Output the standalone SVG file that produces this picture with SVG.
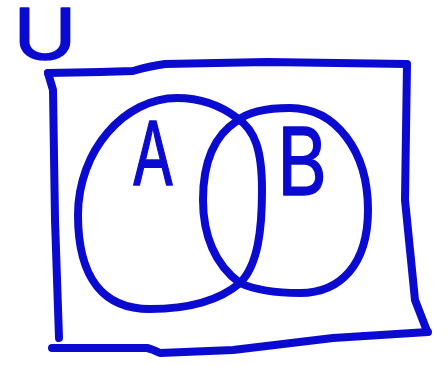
<svg xmlns="http://www.w3.org/2000/svg" width="448" height="366" viewBox="0 0 448 366">
<style>
.ln{fill:none;stroke:#0a0ad0;stroke-width:8;stroke-linecap:round;stroke-linejoin:round}
.lb{font-family:Inter,"DejaVu Sans",sans-serif;fill:#0a0ad0;stroke:#0a0ad0;stroke-width:1.5;stroke-linejoin:round}
</style>
<rect width="448" height="366" fill="#ffffff"/>
<g id="universe">
<path class="ln" d="M48,73 L100,72 L133,71 Q150,66 165,64 L267,62 L407,64 L405,200 L415,300 L427,331"/>
<path class="ln" d="M428,332 L333,338 L233,350 L160,353 Q152,349 147,348 L52,348"/>
<path class="ln" d="M48,73 L53,90 L55,220 L59,338"/>
<text class="lb" x="13" y="59" font-size="70" textLength="64" lengthAdjust="spacingAndGlyphs">U</text>
</g>
<g id="setA">
<path class="ln" d="M177,98 C125,98 78,150 78,215 C78,280 105,309 150,309 C190,309 220,300 240,283 C258,265 262,230 262,190 C262,150 255,130 237,118 C220,105 200,98 177,98 Z"/>
<text class="lb" x="132" y="185" font-size="88" textLength="42" lengthAdjust="spacingAndGlyphs">A</text>
</g>
<g id="setB">
<path class="ln" d="M237,121 C250,110 270,108 290,108 C335,108 368,150 368,210 C368,265 340,293 300,293 C275,293 255,290 240,283 C215,265 203,235 203,200 C203,160 215,135 237,121 Z"/>
<text class="lb" x="277" y="195" font-size="94" textLength="50" lengthAdjust="spacingAndGlyphs">B</text>
</g>
</svg>
